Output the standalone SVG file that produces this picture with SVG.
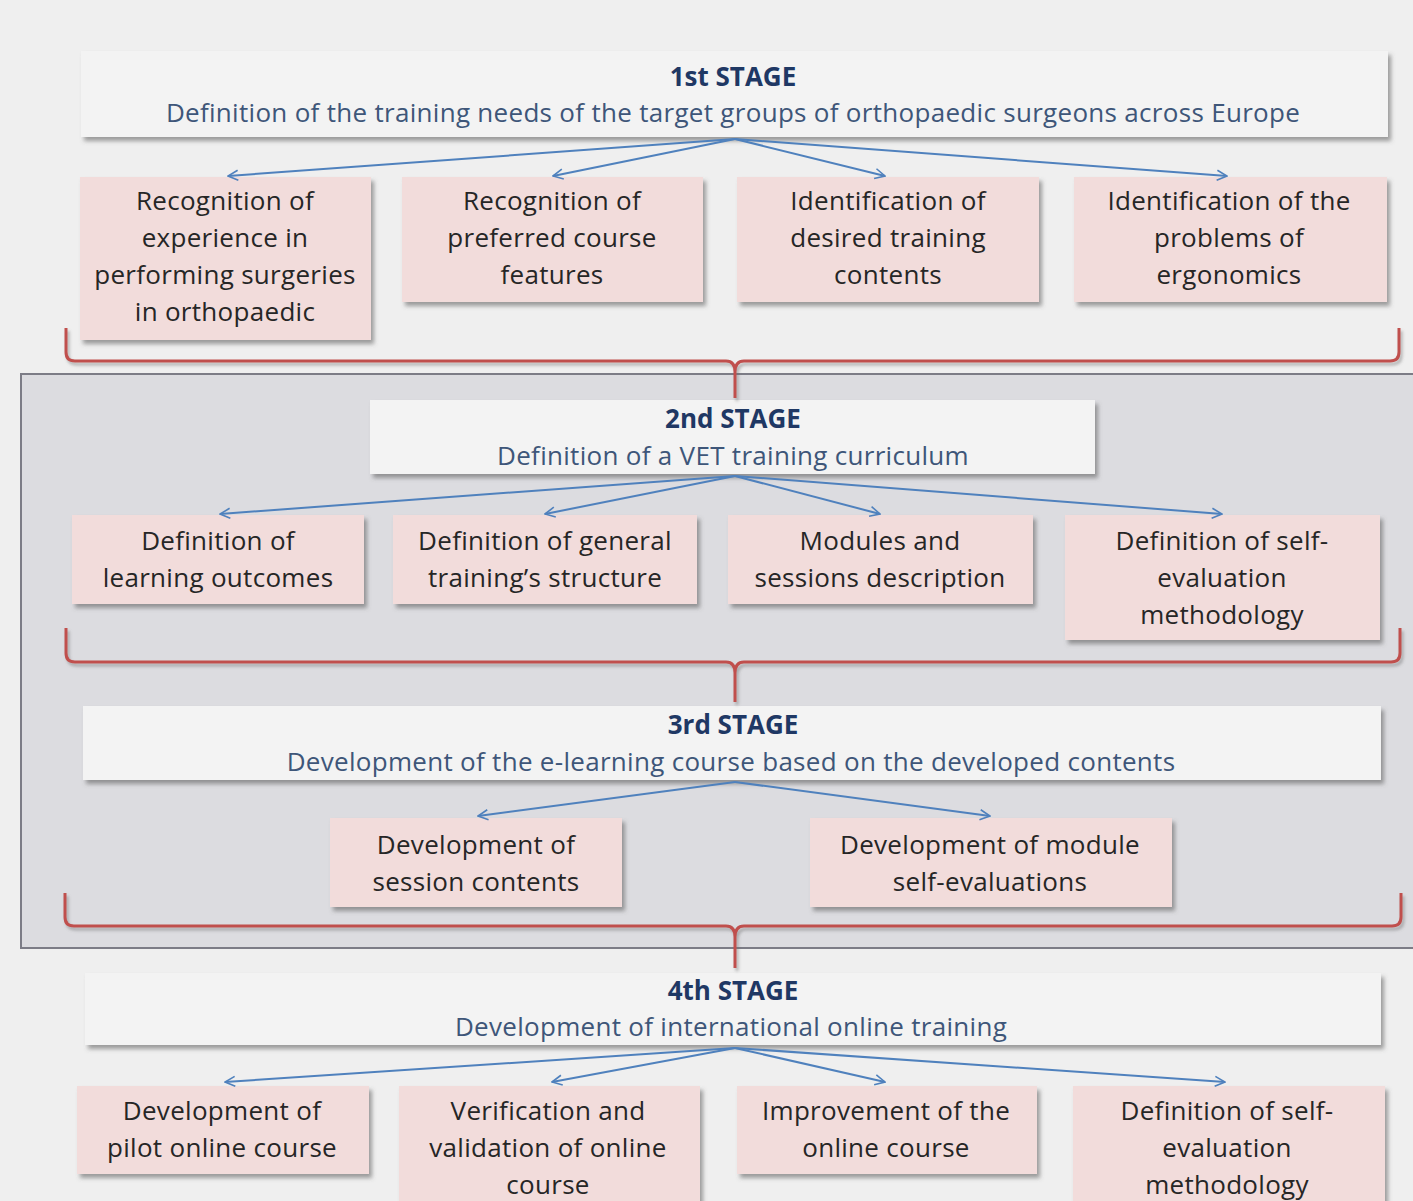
<svg xmlns="http://www.w3.org/2000/svg" width="1413" height="1201" viewBox="0 0 1413 1201">
<defs>
<filter id="sh" x="-5%" y="-10%" width="115%" height="130%">
<feDropShadow dx="3" dy="4" stdDeviation="2" flood-color="#555" flood-opacity="0.55"/>
</filter>
<filter id="bsh" x="-5%" y="-20%" width="110%" height="150%">
<feDropShadow dx="2" dy="3" stdDeviation="1.5" flood-color="#666" flood-opacity="0.45"/>
</filter>
<marker id="ah" viewBox="0 0 12 12" refX="11" refY="6" markerWidth="12" markerHeight="12" markerUnits="userSpaceOnUse" orient="auto">
<path d="M1,1 L11,6 L1,11" fill="none" stroke="#4f81bd" stroke-width="1.6"/>
</marker>
</defs>
<style>
.stage{fill:#f3f3f3;filter:url(#sh)}
.child{fill:#f2dcdb;filter:url(#sh)}
.t{font-family:"Open Sans",Lato,sans-serif;text-anchor:middle}
.title{font-size:26px;font-weight:bold;fill:#1f3864}
.sub{font-size:26px;letter-spacing:0.3px;fill:#3e5679}
.ct{font-size:26px;letter-spacing:0.3px;fill:#262626}
.arr{stroke:#4f81bd;stroke-width:2;fill:none;marker-end:url(#ah)}
.brace{stroke:#c0504d;stroke-width:3;fill:none;filter:url(#bsh)}
</style>
<rect x="0" y="0" width="1413" height="1201" fill="#efefef"/>
<rect x="21" y="374" width="1400" height="574" fill="#dcdce0" stroke="#7c7c86" stroke-width="2"/>

<g id="stage1">
<rect class="stage" x="81" y="51" width="1307" height="86"/>
<text class="t title" x="733" y="86">1st STAGE</text>
<text class="t sub" x="733" y="122">Definition of the training needs of the target groups of orthopaedic surgeons across Europe</text>
</g>
<g id="s1c1">
<rect class="child" x="80" y="177" width="291" height="163"/>
<text class="t ct" x="225" y="210">Recognition of</text>
<text class="t ct" x="225" y="247">experience in</text>
<text class="t ct" x="225" y="284">performing surgeries</text>
<text class="t ct" x="225" y="321">in orthopaedic</text>
</g>
<g id="s1c2">
<rect class="child" x="402" y="177" width="301" height="125"/>
<text class="t ct" x="552" y="210">Recognition of</text>
<text class="t ct" x="552" y="247">preferred course</text>
<text class="t ct" x="552" y="284">features</text>
</g>
<g id="s1c3">
<rect class="child" x="737" y="177" width="302" height="125"/>
<text class="t ct" x="888" y="210">Identification of</text>
<text class="t ct" x="888" y="247">desired training</text>
<text class="t ct" x="888" y="284">contents</text>
</g>
<g id="s1c4">
<rect class="child" x="1074" y="177" width="313" height="125"/>
<text class="t ct" x="1229" y="210">Identification of the</text>
<text class="t ct" x="1229" y="247">problems of</text>
<text class="t ct" x="1229" y="284">ergonomics</text>
</g>

<g id="stage2">
<rect class="stage" x="370" y="400" width="725" height="74"/>
<text class="t title" x="733" y="428">2nd STAGE</text>
<text class="t sub" x="733" y="465">Definition of a VET training curriculum</text>
</g>
<g id="s2c1">
<rect class="child" x="72" y="515" width="292" height="89"/>
<text class="t ct" x="218" y="550">Definition of</text>
<text class="t ct" x="218" y="587">learning outcomes</text>
</g>
<g id="s2c2">
<rect class="child" x="393" y="515" width="304" height="89"/>
<text class="t ct" x="545" y="550">Definition of general</text>
<text class="t ct" x="545" y="587">training’s structure</text>
</g>
<g id="s2c3">
<rect class="child" x="728" y="515" width="305" height="89"/>
<text class="t ct" x="880" y="550">Modules and</text>
<text class="t ct" x="880" y="587">sessions description</text>
</g>
<g id="s2c4">
<rect class="child" x="1065" y="515" width="315" height="125"/>
<text class="t ct" x="1222" y="550">Definition of self-</text>
<text class="t ct" x="1222" y="587">evaluation</text>
<text class="t ct" x="1222" y="624">methodology</text>
</g>

<g id="stage3">
<rect class="stage" x="83" y="706" width="1298" height="74"/>
<text class="t title" x="733" y="734">3rd STAGE</text>
<text class="t sub" x="731" y="771">Development of the e-learning course based on the developed contents</text>
</g>
<g id="s3c1">
<rect class="child" x="330" y="818" width="292" height="89"/>
<text class="t ct" x="476" y="854">Development of</text>
<text class="t ct" x="476" y="891">session contents</text>
</g>
<g id="s3c2">
<rect class="child" x="810" y="818" width="362" height="89"/>
<text class="t ct" x="990" y="854">Development of module</text>
<text class="t ct" x="990" y="891">self-evaluations</text>
</g>

<g id="stage4">
<rect class="stage" x="85" y="973" width="1296" height="72"/>
<text class="t title" x="733" y="1000">4th STAGE</text>
<text class="t sub" x="731" y="1036">Development of international online training</text>
</g>
<g id="s4c1">
<rect class="child" x="77" y="1086" width="292" height="88"/>
<text class="t ct" x="222" y="1120">Development of</text>
<text class="t ct" x="222" y="1157">pilot online course</text>
</g>
<g id="s4c2">
<rect class="child" x="399" y="1086" width="301" height="130"/>
<text class="t ct" x="548" y="1120">Verification and</text>
<text class="t ct" x="548" y="1157">validation of online</text>
<text class="t ct" x="548" y="1194">course</text>
</g>
<g id="s4c3">
<rect class="child" x="737" y="1086" width="300" height="88"/>
<text class="t ct" x="886" y="1120">Improvement of the</text>
<text class="t ct" x="886" y="1157">online course</text>
</g>
<g id="s4c4">
<rect class="child" x="1073" y="1086" width="312" height="130"/>
<text class="t ct" x="1227" y="1120">Definition of self-</text>
<text class="t ct" x="1227" y="1157">evaluation</text>
<text class="t ct" x="1227" y="1194">methodology</text>
</g>

<g id="connectors">
<line class="arr" x1="735" y1="139" x2="228" y2="176"/>
<line class="arr" x1="735" y1="139" x2="553" y2="176"/>
<line class="arr" x1="735" y1="139" x2="885" y2="176"/>
<line class="arr" x1="735" y1="139" x2="1227" y2="176"/>
<line class="arr" x1="735" y1="476" x2="220" y2="514"/>
<line class="arr" x1="735" y1="476" x2="545" y2="514"/>
<line class="arr" x1="735" y1="476" x2="880" y2="514"/>
<line class="arr" x1="735" y1="476" x2="1222" y2="514"/>
<line class="arr" x1="735" y1="782" x2="478" y2="816"/>
<line class="arr" x1="735" y1="782" x2="990" y2="816"/>
<line class="arr" x1="735" y1="1048" x2="225" y2="1082"/>
<line class="arr" x1="735" y1="1048" x2="552" y2="1082"/>
<line class="arr" x1="735" y1="1048" x2="885" y2="1082"/>
<line class="arr" x1="735" y1="1048" x2="1225" y2="1082"/>
<path class="brace" d="M66,328 L66,352 Q66,361 75,361 L726,361 Q735,361 735,372 L735,398 M735,398 L735,372 Q735,361 744,361 L1390,361 Q1399,361 1399,352 L1399,328"/>
<path class="brace" d="M66,628 L66,653 Q66,662 75,662 L726,662 Q735,662 735,673 L735,702 M735,702 L735,673 Q735,662 744,662 L1391,662 Q1400,662 1400,653 L1400,628"/>
<path class="brace" d="M65,893 L65,917 Q65,926 74,926 L726,926 Q735,926 735,937 L735,968 M735,968 L735,937 Q735,926 744,926 L1392,926 Q1401,926 1401,917 L1401,893"/>
</g>
</svg>
